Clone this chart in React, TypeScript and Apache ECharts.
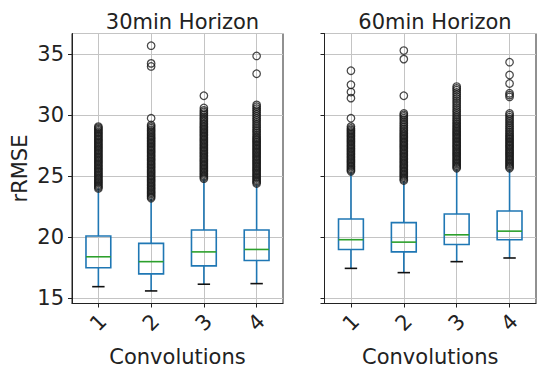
import React, { useEffect, useRef } from "react";
import * as echarts from "echarts";

const categories = ["1", "2", "3", "4"];
const panelTitles = ["30min Horizon", "60min Horizon"];
const yTicks = [15, 20, 25, 30, 35];

// [whiskerLow, q1, median, q3, whiskerHigh] per convolution count
const boxes30 = [
  [15.95, 17.5, 18.4, 20.1, 24.0],
  [15.6, 17.0, 18.0, 19.5, 23.15],
  [16.15, 17.65, 18.8, 20.6, 24.75],
  [16.2, 18.1, 19.0, 20.6, 24.3],
];
const boxes60 = [
  [17.45, 19.0, 19.8, 21.5, 25.3],
  [17.1, 18.8, 19.6, 21.2, 24.6],
  [18.0, 19.4, 20.2, 21.9, 25.55],
  [18.3, 19.8, 20.5, 22.15, 25.55],
];

const out30_1 = [24.0, 24.1, 24.21, 24.33, 24.44, 24.55, 24.66, 24.78, 24.89, 25.0, 25.12, 25.23, 25.34, 25.46, 25.57, 25.68, 25.8, 25.91, 26.02, 26.14, 26.25, 26.36, 26.48, 26.59, 26.7, 26.82, 26.93, 27.04, 27.16, 27.27, 27.38, 27.5, 27.61, 27.72, 27.84, 27.95, 28.06, 28.18, 28.29, 28.4, 28.52, 28.63, 28.75, 28.86, 28.97, 29.07];
const out30_2 = [23.2, 23.31, 23.42, 23.54, 23.65, 23.76, 23.88, 23.99, 24.1, 24.22, 24.33, 24.44, 24.56, 24.67, 24.78, 24.9, 25.01, 25.12, 25.24, 25.35, 25.46, 25.58, 25.69, 25.8, 25.92, 26.03, 26.14, 26.26, 26.37, 26.48, 26.6, 26.71, 26.82, 26.94, 27.05, 27.16, 27.28, 27.39, 27.5, 27.62, 27.73, 27.84, 27.96, 28.07, 28.18, 28.3, 28.42, 28.55, 28.68, 28.8, 28.94, 29.07, 29.2, 29.75, 34.0, 34.25, 35.7];
const out30_3 = [24.8, 24.91, 25.02, 25.14, 25.25, 25.36, 25.48, 25.59, 25.7, 25.82, 25.93, 26.04, 26.16, 26.27, 26.38, 26.5, 26.61, 26.72, 26.84, 26.95, 27.06, 27.18, 27.29, 27.4, 27.52, 27.63, 27.74, 27.86, 27.97, 28.08, 28.2, 28.31, 28.42, 28.54, 28.65, 28.76, 28.88, 28.99, 29.1, 29.22, 29.34, 29.47, 29.6, 29.73, 29.86, 30.0, 30.13, 30.27, 30.4, 30.6, 31.6];
const out30_4 = [24.4, 24.51, 24.62, 24.74, 24.85, 24.96, 25.08, 25.19, 25.3, 25.42, 25.53, 25.64, 25.76, 25.87, 25.98, 26.1, 26.21, 26.32, 26.44, 26.55, 26.66, 26.78, 26.89, 27.0, 27.12, 27.23, 27.34, 27.46, 27.57, 27.68, 27.8, 27.91, 28.02, 28.14, 28.26, 28.4, 28.54, 28.68, 28.82, 28.97, 29.12, 29.27, 29.42, 29.58, 29.74, 29.9, 30.06, 30.22, 30.38, 30.54, 30.7, 30.85, 33.4, 34.86];
const out60_1 = [25.4, 25.51, 25.62, 25.74, 25.85, 25.96, 26.08, 26.19, 26.3, 26.42, 26.53, 26.64, 26.76, 26.87, 26.98, 27.1, 27.21, 27.32, 27.44, 27.55, 27.66, 27.78, 27.89, 28.0, 28.12, 28.23, 28.34, 28.46, 28.57, 28.68, 28.8, 28.92, 29.07, 29.75, 31.4, 31.9, 32.5, 33.65];
const out60_2 = [24.65, 24.76, 24.87, 24.99, 25.1, 25.21, 25.33, 25.44, 25.55, 25.67, 25.78, 25.89, 26.01, 26.12, 26.23, 26.35, 26.46, 26.57, 26.69, 26.8, 26.91, 27.03, 27.14, 27.25, 27.37, 27.48, 27.59, 27.71, 27.82, 27.93, 28.05, 28.16, 28.27, 28.39, 28.5, 28.62, 28.75, 28.88, 29.02, 29.16, 29.3, 29.45, 29.6, 29.75, 29.9, 30.02, 30.15, 31.6, 34.6, 35.3];
const out60_3 = [25.65, 25.76, 25.87, 25.99, 26.1, 26.21, 26.33, 26.44, 26.55, 26.67, 26.78, 26.89, 27.01, 27.12, 27.23, 27.35, 27.46, 27.57, 27.69, 27.8, 27.91, 28.03, 28.14, 28.25, 28.37, 28.48, 28.59, 28.71, 28.82, 28.93, 29.05, 29.17, 29.3, 29.43, 29.56, 29.7, 29.85, 30.0, 30.16, 30.32, 30.48, 30.65, 30.82, 31.0, 31.17, 31.35, 31.52, 31.7, 31.87, 32.05, 32.2, 32.35];
const out60_4 = [25.65, 25.76, 25.87, 25.99, 26.1, 26.21, 26.33, 26.44, 26.55, 26.67, 26.78, 26.89, 27.01, 27.12, 27.23, 27.35, 27.46, 27.57, 27.69, 27.8, 27.91, 28.03, 28.14, 28.25, 28.37, 28.5, 28.63, 28.77, 28.91, 29.06, 29.21, 29.36, 29.52, 29.68, 29.84, 30.0, 30.15, 31.5, 31.65, 31.8, 32.6, 33.3, 34.35];

const outliers30 = [out30_1, out30_2, out30_3, out30_4];
const outliers60 = [out60_1, out60_2, out60_3, out60_4];

const BLUE = "#1f77b4";
const GREEN = "#2ca02c";
const TEXT = "#222";
const GRIDC = "#c4c4c4";
const FONT = "DejaVu Sans";
const FS = 21;

function renderBox(params: any, api: any) {
  const idx = api.value(0);
  const lo = api.coord([idx, api.value(1)]);
  const q1 = api.coord([idx, api.value(2)]);
  const med = api.coord([idx, api.value(3)]);
  const q3 = api.coord([idx, api.value(4)]);
  const hi = api.coord([idx, api.value(5)]);
  const band = api.size([1, 0])[0];
  const bw = band * 0.47;
  const cw = bw * 0.5;
  const x = lo[0];
  const lw = 1.6;
  return {
    type: "group",
    children: [
      { type: "line", shape: { x1: x, y1: lo[1], x2: x, y2: q1[1] }, style: { stroke: BLUE, lineWidth: lw } },
      { type: "line", shape: { x1: x, y1: q3[1], x2: x, y2: hi[1] }, style: { stroke: BLUE, lineWidth: lw } },
      { type: "rect", shape: { x: x - bw / 2, y: q3[1], width: bw, height: q1[1] - q3[1] }, style: { stroke: BLUE, fill: "none", lineWidth: lw } },
      { type: "line", shape: { x1: x - bw / 2, y1: med[1], x2: x + bw / 2, y2: med[1] }, style: { stroke: GREEN, lineWidth: lw } },
      { type: "line", shape: { x1: x - cw / 2, y1: lo[1], x2: x + cw / 2, y2: lo[1] }, style: { stroke: "#111", lineWidth: lw } },
    ],
  };
}

export default function App() {
  const ref = useRef<HTMLDivElement>(null);
  useEffect(() => {
    if (!ref.current) return;
    const chart = echarts.init(ref.current, null, { renderer: "svg" });
    const grids = [
      { left: 72, top: 33.5, width: 211, height: 270 },
      { left: 324.5, top: 33.5, width: 211.5, height: 270 },
    ];
    const mkX = (i: number) => ({
      type: "category",
      gridIndex: i,
      data: categories,
      boundaryGap: true,
      name: "Convolutions",
      nameLocation: "middle",
      nameGap: 43,
      nameTextStyle: { fontFamily: FONT, fontSize: FS, color: TEXT },
      axisLine: { show: true, lineStyle: { color: "#222", width: 1 } },
      axisTick: { show: true, alignWithLabel: true, length: 4, lineStyle: { color: "#222" } },
      axisLabel: { show: true, rotate: 45, align: "center", verticalAlign: "middle", margin: 19, fontFamily: FONT, fontSize: FS, color: TEXT },
      splitLine: { show: true, alignWithLabel: true, lineStyle: { color: GRIDC, width: 1 } },
    });
    const mkY = (i: number) => ({
      type: "value",
      gridIndex: i,
      min: 14.57,
      max: 36.7,
      splitNumber: 5,
      name: i === 0 ? "rRMSE" : "",
      nameLocation: "middle",
      nameGap: 42,
      nameRotate: 90,
      nameTextStyle: { fontFamily: FONT, fontSize: FS, color: TEXT },
      axisLine: { show: true, lineStyle: { color: "#222", width: 1 } },
      axisTick: { show: true, length: 4, lineStyle: { color: "#222" } },
      axisLabel: {
        show: i === 0,
        showMinLabel: false,
        showMaxLabel: false,
        margin: 8,
        fontFamily: FONT,
        fontSize: FS,
        color: TEXT,
        formatter: (v: number) => (yTicks.includes(Math.round(v * 1000) / 1000) ? String(v) : ""),
      },
      splitLine: { show: true, lineStyle: { color: GRIDC, width: 1 } },
    });
    const series: any[] = [];
    [boxes30, boxes60].forEach((bx, gi) => {
      series.push({
        type: "custom",
        xAxisIndex: gi,
        yAxisIndex: gi,
        renderItem: renderBox,
        encode: { x: 0, y: [1, 2, 3, 4, 5] },
        data: bx.map((b, i) => [i, ...b]),
        z: 3,
      });
      const outs = gi === 0 ? outliers30 : outliers60;
      const pts: number[][] = [];
      outs.forEach((arr, i) => arr.forEach((v) => pts.push([i, v])));
      series.push({
        type: "scatter",
        xAxisIndex: gi,
        yAxisIndex: gi,
        symbol: "circle",
        symbolSize: 7.5,
        itemStyle: { color: "rgba(0,0,0,0)", borderColor: "#1a1a1a", borderWidth: 1.25 },
        data: pts,
        z: 4,
      });
    });
    chart.setOption({
      animation: false,
      backgroundColor: "#fff",
      textStyle: { fontFamily: FONT },
      title: panelTitles.map((t, i) => ({
        text: t,
        left: i === 0 ? 177.5 : 430,
        top: 6,
        textAlign: "center",
        textStyle: { fontFamily: FONT, fontSize: FS, fontWeight: "normal", color: TEXT },
      })),
      grid: grids.map((g) => ({ ...g, show: true, borderColor: "#222", borderWidth: 1, backgroundColor: "transparent" })),
      xAxis: [mkX(0), mkX(1)],
      yAxis: [mkY(0), mkY(1)],
      series,
    });
    return () => chart.dispose();
  }, []);
  return <div ref={ref} style={{ position: "fixed", left: 0, top: 0, width: 541, height: 374 }} />;
}
